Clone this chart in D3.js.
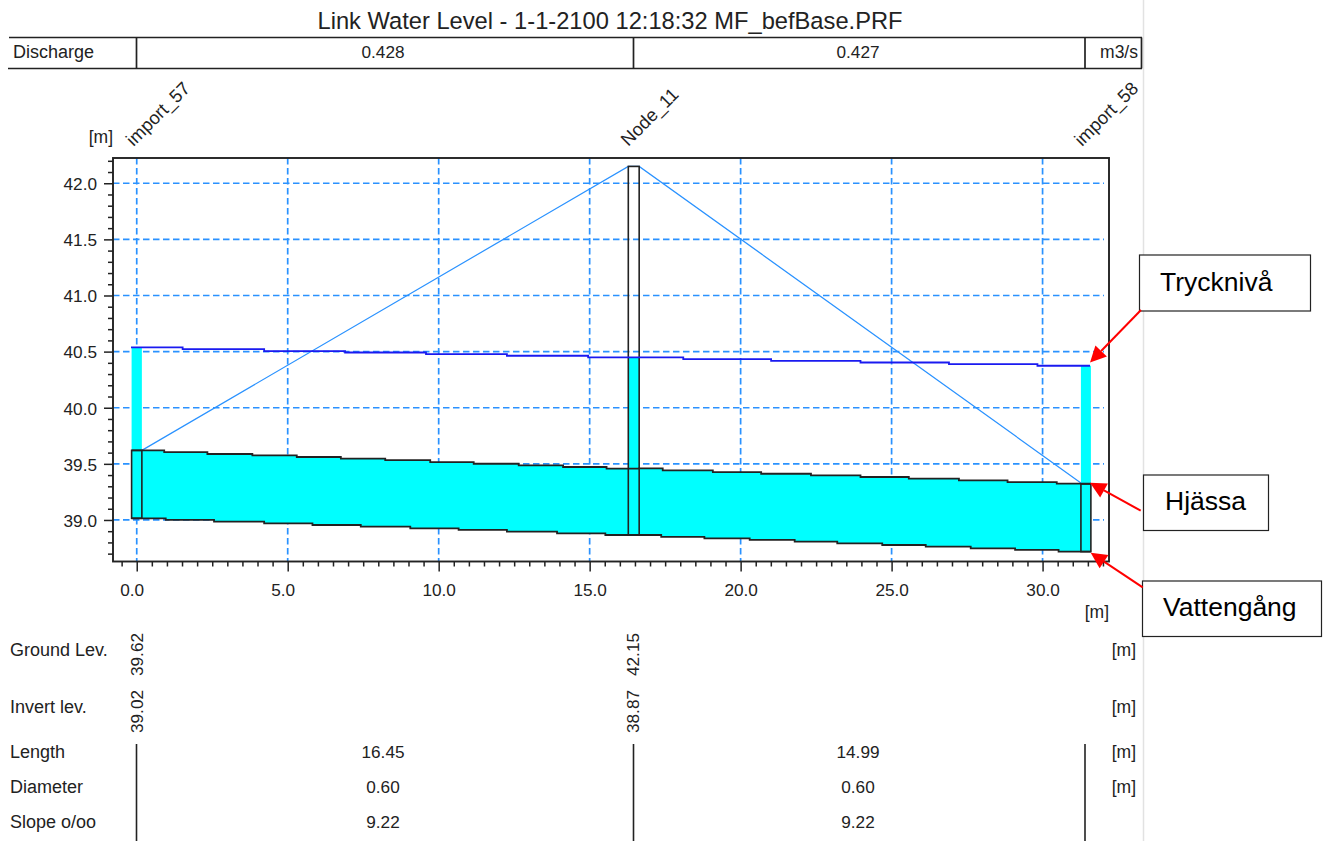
<!DOCTYPE html>
<html>
<head>
<meta charset="utf-8">
<script src="https://cdn.jsdelivr.net/npm/d3@7"></script>
<style>
html,body{margin:0;padding:0;background:#fff;}
svg{display:block;}
text{font-family:"Liberation Sans",Arial,sans-serif;fill:#222;}
</style>
</head>
<body>
<div id="chart"></div>
<script>
// ---- data ----
const titleText = "Link Water Level - 1-1-2100 12:18:32 MF_befBase.PRF";
const nodeNames = ["import_57","Node_11","import_58"];
const nodeLeft  = [-0.17,16.28,31.27];
const nodeRight = [0.17,16.64,31.60];
const nodeTop   = [39.62,42.15,39.32];
const nodeBottom= [39.015,38.866,38.718];
const nodeWater = [40.537,40.448,40.374];
const groundLevLabels = ["39.62","42.15"];
const invertLevLabels = ["39.02","38.87"];
const dischargeLabels = ["0.428","0.427"];
const lengthLabels = ["16.45","14.99"];
const diameterLabels = ["0.60","0.60"];
const slopeLabels = ["9.22","9.22"];
const groundChainage = [0.17,16.28,16.64,31.27];
const groundLevel    = [39.62,42.15,42.15,39.33];
const waterChainage = [-0.19,1.52,4.22,6.90,9.58,12.26,14.95,18.10,21.01,23.97,26.90,29.83,31.57];
const waterLevel    = [40.537,40.522,40.504,40.492,40.478,40.463,40.448,40.433,40.418,40.403,40.389,40.374,40.374];
const crownChainage = [-0.17,0.91,2.34,3.83,5.30,6.76,8.23,9.72,11.16,12.65,14.12,15.56,16.63,17.42,19.08,20.68,22.33,23.97,25.57,27.23,28.84,30.47,31.60];
const crownLevel    = [39.62,39.605,39.588,39.575,39.561,39.546,39.534,39.516,39.501,39.486,39.472,39.457,39.459,39.442,39.427,39.412,39.397,39.383,39.368,39.353,39.338,39.323,39.323];
const invertChainage= [-0.17,0.96,2.56,4.22,5.82,7.42,9.06,10.66,12.26,13.92,15.52,17.37,18.80,20.30,21.79,23.20,24.69,26.13,27.62,29.09,30.53,31.60];
const invertLevel   = [39.014,39.0,38.985,38.970,38.955,38.940,38.925,38.911,38.896,38.881,38.866,38.849,38.836,38.822,38.807,38.792,38.777,38.762,38.747,38.733,38.718,38.718];
const xMajor = [0,5,10,15,20,25,30];
const xMinor = [-0.5,0.5,1,1.5,2,2.5,3,3.5,4,4.5,5.5,6,6.5,7,7.5,8,8.5,9,9.5,10.5,11,11.5,12,12.5,13,13.5,14,14.5,15.5,16,16.5,17,17.5,18,18.5,19,19.5,20.5,21,21.5,22,22.5,23,23.5,24,24.5,25.5,26,26.5,27,27.5,28,28.5,29,29.5,30.5,31,31.5,32];
const yMajor = [39,39.5,40,40.5,41,41.5,42];
const yMinor = [38.7,38.8,38.9,39.1,39.2,39.3,39.4,39.6,39.7,39.8,39.9,40.1,40.2,40.3,40.4,40.6,40.7,40.8,40.9,41.1,41.2,41.3,41.4,41.6,41.7,41.8,41.9,42.1,42.2];
const callouts = [
  {label:"Trycknivå", box:[1139.5,255,171,56], textAt:[1160,291], from:[1141,310], tip:[1090,362.5]},
  {label:"Hjässa",    box:[1143.5,475,125,55.5], textAt:[1165,510], from:[1140.7,510.7], tip:[1090,482.7]},
  {label:"Vattengång",box:[1142.5,581,179,55.5], textAt:[1163,616], from:[1142.7,587.3], tip:[1090.7,552.7]}
];

// ---- layout ----
const W=1326,H=841;
const plot={l:113,t:158,r:1109,b:561.5};
const x=d3.scaleLinear().domain([-0.786,32.2]).range([plot.l,plot.r]);
const y=d3.scaleLinear().domain([38.63,42.225]).range([plot.b,plot.t]);
const FS=18, NS=17.2, dark="#222", gridC="#2a92ff", cyan="#00ffff";
const svg=d3.select("#chart").append("svg").attr("width",W).attr("height",H);

// page edge
svg.append("line").attr("x1",1143.5).attr("x2",1143.5).attr("y1",0).attr("y2",H).attr("stroke","#e2e2e2").attr("stroke-width",1.5);

// title
svg.append("text").attr("x",610).attr("y",29).attr("text-anchor","middle").style("font-size","23.7px").text(titleText);

// discharge table
const colLines=[136.5,633.5,1085];
const colCenters=[383,858];
svg.append("line").attr("x1",9).attr("x2",1142).attr("y1",37.5).attr("y2",37.5).attr("stroke",dark).attr("stroke-width",1.7);
svg.append("line").attr("x1",8).attr("x2",1142).attr("y1",68.5).attr("y2",68.5).attr("stroke",dark).attr("stroke-width",1.7);
svg.selectAll(".dv").data(colLines.concat([1141.5])).join("line").attr("class","dv").attr("x1",d=>d).attr("x2",d=>d).attr("y1",37.5).attr("y2",68.5).attr("stroke",dark).attr("stroke-width",1.7);
const T=(s,px,py,anchor="start",fs=FS)=>svg.append("text").attr("x",px).attr("y",py).attr("text-anchor",anchor).style("font-size",fs+"px").text(s);
T("Discharge",13,58);
dischargeLabels.forEach((d,i)=>T(d,colCenters[i],58,"middle",NS));
T("m3/s",1138,58,"end",17.5);

// grid
const grid=svg.append("g").attr("stroke",gridC).attr("stroke-width",1.7).attr("stroke-dasharray","6.5,3.5").attr("fill","none");
grid.selectAll(".v").data(xMajor).join("line").attr("x1",d=>x(d)).attr("x2",d=>x(d)).attr("y1",plot.t).attr("y2",plot.b);
grid.selectAll(".h").data(yMajor).join("line").attr("x1",plot.l).attr("x2",plot.r-5).attr("y1",d=>y(d)).attr("y2",d=>y(d));

// pipe body
const stepAt=(xs,ys,v)=>ys[Math.max(0,d3.bisectRight(xs,v)-1)];
const allX=Array.from(new Set(crownChainage.concat(invertChainage))).sort(d3.ascending);
svg.append("path").attr("fill",cyan).attr("d",
  d3.area().curve(d3.curveStepAfter).x(d=>x(d))
    .y0(d=>y(stepAt(invertChainage,invertLevel,d)))
    .y1(d=>y(stepAt(crownChainage,crownLevel,d)))(allX));

// water columns at nodes
svg.selectAll(".wc").data(nodeNames).join("rect").attr("fill",cyan)
  .attr("x",(d,i)=>x(nodeLeft[i])).attr("width",(d,i)=>x(nodeRight[i])-x(nodeLeft[i]))
  .attr("y",(d,i)=>y(nodeWater[i])).attr("height",(d,i)=>y(nodeBottom[i])-y(nodeWater[i]));

// ground line
const pts=(a,b)=>a.map((v,i)=>[v,b[i]]);
const poly=d3.line().x(d=>x(d[0])).y(d=>y(d[1]));
svg.append("path").attr("fill","none").attr("stroke",gridC).attr("stroke-width",1.2).attr("d",poly(pts(groundChainage,groundLevel)));

// crown & invert stepped lines
const step=d3.line().curve(d3.curveStepAfter).x(d=>x(d[0])).y(d=>y(d[1]));
[[crownChainage,crownLevel],[invertChainage,invertLevel]].forEach(([a,b])=>{
  svg.append("path").attr("fill","none").attr("stroke",dark).attr("stroke-width",1.8).attr("d",step(pts(a,b)));
});

// node boxes
svg.selectAll(".nb").data(nodeNames).join("rect").attr("fill","none").attr("stroke",dark).attr("stroke-width",1.6)
  .attr("x",(d,i)=>x(nodeLeft[i])).attr("width",(d,i)=>x(nodeRight[i])-x(nodeLeft[i]))
  .attr("y",(d,i)=>y(nodeTop[i])).attr("height",(d,i)=>y(nodeBottom[i])-y(nodeTop[i]));

// water level
svg.append("path").attr("fill","none").attr("stroke","#1a1af0").attr("stroke-width",1.8).attr("d",step(pts(waterChainage,waterLevel)));

// axes
const axisStyle=g=>{g.select(".domain").remove();g.selectAll("line").attr("stroke",dark).attr("stroke-width",1.5);};
svg.append("g").attr("transform",`translate(${plot.l},0)`).call(d3.axisLeft(y).tickValues(yMinor).tickSize(5).tickFormat("")).call(axisStyle);
const ya=svg.append("g").attr("transform",`translate(${plot.l},0)`).call(d3.axisLeft(y).tickValues(yMajor).tickSize(9).tickPadding(7).tickFormat(d3.format(".1f"))).call(axisStyle);
ya.selectAll("text").style("font-size",NS+"px").attr("fill",null).attr("dy","0.37em").attr("x",-16);
svg.append("g").attr("transform",`translate(0,${plot.b})`).call(d3.axisBottom(x).tickValues(xMinor).tickSize(5).tickFormat("")).call(axisStyle);
const xa=svg.append("g").attr("transform",`translate(0,${plot.b})`).call(d3.axisBottom(x).tickValues(xMajor).tickSize(10).tickPadding(12).tickFormat(d3.format(".1f"))).call(axisStyle);
xa.selectAll("text").style("font-size",NS+"px").attr("fill",null).attr("dx",d=>d<10?-5:0);
svg.append("rect").attr("x",plot.l).attr("y",plot.t).attr("width",plot.r-plot.l).attr("height",plot.b-plot.t).attr("fill","none").attr("stroke",dark).attr("stroke-width",1.9);

// axis units
T("[m]",113,143,"end",17.5);
T("[m]",1109,618,"end",17.5);

// rotated node names
const nameShift=[2,0,1];
svg.selectAll(".nn").data(nodeNames).join("text").attr("class","nn").style("font-size","18.3px")
  .attr("transform",(d,i)=>`translate(${x(nodeLeft[i])+nameShift[i]},147) rotate(-45)`).text(d=>d);

// lower table
const V=(s,px,top)=>svg.append("text").attr("transform",`translate(${px},${top}) rotate(-90)`).attr("text-anchor","end").style("font-size",NS+"px").text(s);
[["Ground Lev.",656],["Invert lev.",713],["Length",758],["Diameter",793],["Slope o/oo",828]].forEach(([s,py])=>T(s,10,py));
[656,713,758,793].forEach(py=>T("[m]",1136,py,"end",17.5));
const vX=[143,638.5];
groundLevLabels.forEach((s,i)=>V(s,vX[i],633));
invertLevLabels.forEach((s,i)=>V(s,vX[i],690));
[[lengthLabels,758],[diameterLabels,793],[slopeLabels,828]].forEach(([a,py])=>a.forEach((s,i)=>T(s,colCenters[i],py,"middle",NS)));
svg.selectAll(".cl").data(colLines).join("line").attr("x1",d=>d).attr("x2",d=>d).attr("y1",744).attr("y2",H).attr("stroke",dark).attr("stroke-width",1.6);

// callouts
callouts.forEach(c=>{
  svg.append("rect").attr("x",c.box[0]).attr("y",c.box[1]).attr("width",c.box[2]).attr("height",c.box[3]).attr("fill","#fff").attr("stroke",dark).attr("stroke-width",1.2);
  svg.append("text").attr("x",c.textAt[0]).attr("y",c.textAt[1]).style("font-size","26.5px").style("fill","#000").text(c.label);
  const a=Math.atan2(c.tip[1]-c.from[1],c.tip[0]-c.from[0]),L=16,Wd=8;
  const bx=c.tip[0]-L*Math.cos(a),by=c.tip[1]-L*Math.sin(a);
  svg.append("line").attr("x1",c.from[0]).attr("y1",c.from[1]).attr("x2",bx).attr("y2",by).attr("stroke","#f00").attr("stroke-width",2);
  svg.append("path").attr("fill","#f00").attr("d",d3.line()([c.tip,[bx+Wd*Math.sin(a),by-Wd*Math.cos(a)],[bx-Wd*Math.sin(a),by+Wd*Math.cos(a)]])+"Z");
});
</script>
</body>
</html>
